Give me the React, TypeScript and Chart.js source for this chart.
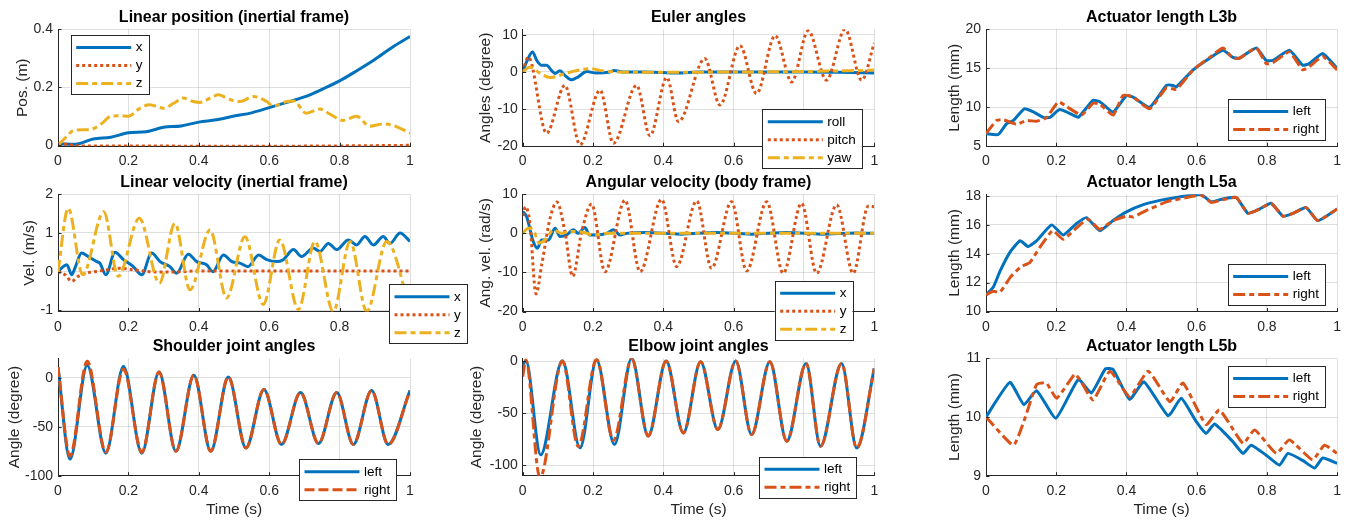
import React, { useEffect, useRef } from 'react';
import { Chart, registerables } from 'chart.js';

Chart.register(...registerables);

const W = 1348;
const H = 521;
const FONT = '"Liberation Sans", Arial, Helvetica, sans-serif';
const AXIS_COLOR = '#262626';
const GRID_COLOR = 'rgba(38,38,38,0.15)';
const BLUE = '#0072BD';
const ORANGE = '#D95319';
const YELLOW = '#EDB120';
const SOLID: number[] = [];
const DOTTED = [3, 3];
const DASHDOT = [12, 4, 5, 4];
const DASHED = [10, 4];
const LINE_W = 3;

// ---------- tick values ----------
const X_TICKS = [0, 0.2, 0.4, 0.6, 0.8, 1];
const POS_TICKS = [0, 0.2, 0.4];
const EULER_TICKS = [-20, -10, 0, 10];
const L3B_TICKS = [5, 10, 15, 20];
const VEL_TICKS = [-1, 0, 1, 2];
const ANGVEL_TICKS = [-20, -10, 0, 10];
const L5A_TICKS = [10, 12, 14, 16, 18];
const SHOULDER_TICKS = [-100, -50, 0];
const ELBOW_TICKS = [-100, -50, 0];
const L5B_TICKS = [9, 10, 11];

// ---------- Linear position ----------
const POS_X_T = [0, 0.05, 0.1, 0.15, 0.2, 0.25, 0.3, 0.35, 0.4, 0.45, 0.5, 0.55, 0.6, 0.65, 0.7, 0.75, 0.8, 0.85, 0.9, 0.95, 1];
const POS_X = [0.005, 0.004, 0.022, 0.028, 0.043, 0.047, 0.062, 0.067, 0.08, 0.088, 0.101, 0.112, 0.13, 0.148, 0.167, 0.193, 0.222, 0.258, 0.296, 0.338, 0.375];
const POS_Y_T = [0, 0.03, 0.06, 0.2, 0.4, 0.6, 0.8, 1];
const POS_Y = [0.006, 0.003, -0.002, -0.002, -0.003, -0.003, -0.002, 0];
const POS_Z_T = [0, 0.025, 0.045, 0.09, 0.12, 0.15, 0.176, 0.2, 0.233, 0.26, 0.3, 0.33, 0.356, 0.384, 0.403, 0.44, 0.455, 0.49, 0.517, 0.555, 0.593, 0.61, 0.65, 0.67, 0.705, 0.744, 0.772, 0.81, 0.848, 0.886, 0.924, 0.953, 1];
const POS_Z = [0, 0.031, 0.052, 0.054, 0.071, 0.1, 0.102, 0.1, 0.128, 0.14, 0.128, 0.146, 0.163, 0.151, 0.148, 0.168, 0.174, 0.157, 0.151, 0.168, 0.151, 0.136, 0.151, 0.153, 0.111, 0.125, 0.108, 0.086, 0.1, 0.066, 0.074, 0.068, 0.042];

// ---------- Euler angles ----------
const ROLL_T = [0, 0.011, 0.028, 0.04, 0.054, 0.068, 0.082, 0.092, 0.106, 0.12, 0.139, 0.158, 0.182, 0.21, 0.248, 0.26, 0.286, 0.35, 0.44, 0.5, 0.6, 0.7, 0.8, 0.9, 1];
const ROLL = [0, 2.7, 5.4, 3.1, 1.8, 1.8, 0.4, -0.4, 0.3, -0.9, -2.1, -1.3, 0.1, -0.3, 0, 0.4, 0, 0, -0.3, 0, 0, 0, 0, -0.1, -0.3];
const PITCH_T = [0, 0.016, 0.068, 0.12, 0.163, 0.22, 0.258, 0.324, 0.362, 0.41, 0.443, 0.518, 0.561, 0.618, 0.665, 0.718, 0.765, 0.812, 0.864, 0.917, 0.964, 1];
const PITCH = [0, 4.0, -16.5, -3.6, -19.6, -4.9, -19.2, -3.6, -17.2, -1.5, -13.4, 3.6, -8.9, 7.1, -5.8, 9.8, -2.7, 11.1, -2.2, 11.5, -2.2, 7.8];
const YAW_T = [0, 0.02, 0.05, 0.078, 0.115, 0.154, 0.19, 0.23, 0.267, 0.4, 0.6, 0.8, 0.9, 1];
const YAW = [0, 1.3, -0.4, -1.5, -0.6, 0.4, 0.9, 0.3, 0, -0.1, 0, 0.1, 0.3, 0.5];

// ---------- Actuator length L3b ----------
const L3B_L_T = [0, 0.035, 0.059, 0.078, 0.109, 0.135, 0.163, 0.182, 0.21, 0.248, 0.263, 0.305, 0.324, 0.362, 0.4, 0.419, 0.466, 0.514, 0.533, 0.542, 0.59, 0.637, 0.675, 0.703, 0.722, 0.77, 0.798, 0.817, 0.864, 0.902, 0.921, 0.959, 1];
const L3B_L = [6.6, 6.5, 7.9, 8.3, 9.8, 9.4, 8.7, 8.7, 9.7, 9.0, 8.7, 10.9, 10.7, 9.4, 11.5, 11.3, 10.0, 12.8, 12.8, 12.6, 14.8, 16.3, 17.3, 16.4, 16.3, 17.6, 16.0, 16.0, 17.3, 15.4, 15.6, 16.9, 15.0];
const L3B_R_T = [0, 0.03, 0.049, 0.087, 0.116, 0.144, 0.172, 0.206, 0.229, 0.272, 0.305, 0.324, 0.362, 0.39, 0.419, 0.466, 0.514, 0.542, 0.59, 0.637, 0.675, 0.703, 0.722, 0.77, 0.798, 0.817, 0.864, 0.902, 0.921, 0.959, 1];
const L3B_R = [6.6, 8.3, 8.4, 7.8, 8.3, 8.2, 8.65, 10.7, 10.1, 9.0, 10.5, 10.4, 9.0, 11.5, 11.3, 9.8, 12.5, 12.3, 14.8, 16.4, 17.6, 16.3, 16.3, 17.6, 15.6, 15.7, 17.1, 14.8, 15.2, 16.5, 14.8];

// ---------- Linear velocity ----------
const VEL_X_T = [0, 0.015, 0.025, 0.039, 0.048, 0.067, 0.086, 0.11, 0.119, 0.136, 0.162, 0.186, 0.214, 0.238, 0.266, 0.29, 0.318, 0.337, 0.37, 0.394, 0.422, 0.44, 0.47, 0.494, 0.517, 0.54, 0.57, 0.593, 0.621, 0.64, 0.669, 0.692, 0.725, 0.744, 0.768, 0.792, 0.825, 0.848, 0.872, 0.896, 0.924, 0.943, 0.972, 1];
const VEL_X = [0, 0.13, 0.18, -0.08, 0.09, 0.48, 0.39, 0.26, 0.22, -0.08, 0.5, 0.31, 0.13, -0.08, 0.48, 0.26, 0.13, -0.04, 0.45, 0.26, 0.18, 0, 0.43, 0.26, 0.22, 0.13, 0.43, 0.31, 0.26, 0.31, 0.57, 0.39, 0.61, 0.52, 0.73, 0.57, 0.82, 0.69, 0.91, 0.69, 0.91, 0.73, 1.0, 0.78];
const VEL_Y_T = [0, 0.02, 0.039, 0.058, 0.08, 0.12, 0.176, 0.214, 0.26, 0.33, 0.4, 0.6, 0.8, 1];
const VEL_Y = [0, -0.08, -0.25, -0.12, -0.04, 0.02, 0.09, 0.05, 0, -0.01, 0.02, 0.02, 0.02, 0.02];
const VEL_Z_T = [0, 0.029, 0.07, 0.13, 0.171, 0.231, 0.288, 0.332, 0.375, 0.432, 0.479, 0.531, 0.583, 0.63, 0.683, 0.73, 0.782, 0.83, 0.877, 0.934, 1];
const VEL_Z = [0, 1.64, -0.08, 1.55, -0.12, 1.38, -0.3, 1.25, -0.47, 1.08, -0.68, 0.9, -0.85, 0.82, -0.98, 0.78, -1.03, 0.78, -1.03, 0.78, -0.95];

// ---------- Angular velocity ----------
const AV_X_T = [0, 0.011, 0.03, 0.042, 0.054, 0.073, 0.092, 0.106, 0.125, 0.144, 0.158, 0.177, 0.19, 0.21, 0.239, 0.258, 0.277, 0.296, 0.35, 0.45, 0.55, 0.65, 0.75, 0.85, 0.95, 1];
const AV_X = [5.6, 4.3, -2.1, -3.8, -1.7, -1.7, 1.3, -0.8, -0.4, 0.9, 0, 1.5, -0.4, -0.4, 0, 0.9, -0.4, 0, 0.2, -0.2, 0.2, -0.2, 0.2, -0.2, 0.1, 0];
const AV_Y_T = [0, 0.008, 0.02, 0.038, 0.054, 0.078, 0.097, 0.12, 0.142, 0.168, 0.196, 0.234, 0.291, 0.334, 0.395, 0.438, 0.495, 0.537, 0.594, 0.637, 0.694, 0.741, 0.793, 0.836, 0.893, 0.94, 0.983, 1];
const AV_Y = [4.5, 6.8, 3.0, -15.5, -8.1, 3.9, 8.0, 0.5, -11.0, 0.5, 7.5, -9.8, 8.5, -9.8, 8.7, -8.5, 8.3, -8.9, 8.1, -9.6, 8.1, -10.2, 7.7, -10.2, 7.3, -10.2, 7.0, 6.8];
const AV_Z_T = [0, 0.016, 0.03, 0.047, 0.068, 0.087, 0.11, 0.135, 0.172, 0.2, 0.24, 0.4, 0.6, 0.8, 1];
const AV_Z = [0, 1.3, 0.9, -2.5, -1.3, 0.9, 0, 0.5, 0.3, -0.4, 0, 0, 0, 0, 0];

// ---------- Actuator length L5a ----------
const L5A_L_T = [0, 0.021, 0.04, 0.068, 0.097, 0.12, 0.144, 0.187, 0.22, 0.258, 0.286, 0.324, 0.362, 0.4, 0.448, 0.495, 0.542, 0.59, 0.613, 0.642, 0.675, 0.713, 0.746, 0.779, 0.812, 0.846, 0.874, 0.912, 0.945, 1];
const L5A_L = [11.15, 11.7, 12.8, 14.1, 14.9, 14.5, 14.9, 16.0, 15.3, 16.1, 16.5, 15.6, 16.3, 16.9, 17.4, 17.7, 17.9, 18.07, 18.1, 17.6, 17.8, 17.9, 16.8, 17.1, 17.5, 16.6, 16.8, 17.2, 16.3, 17.1];
const L5A_R_T = [0, 0.02, 0.04, 0.07, 0.1, 0.125, 0.152, 0.19, 0.22, 0.258, 0.29, 0.324, 0.362, 0.4, 0.419, 0.457, 0.514, 0.571, 0.613, 0.642, 0.675, 0.713, 0.746, 0.779, 0.812, 0.846, 0.874, 0.912, 0.945, 1];
const L5A_R = [11.15, 11.4, 11.35, 12.4, 13.1, 13.4, 14.4, 15.6, 15.0, 15.8, 16.4, 15.7, 16.3, 16.6, 16.55, 17.0, 17.6, 17.9, 18.05, 17.55, 17.75, 17.9, 16.8, 17.1, 17.5, 16.6, 16.8, 17.2, 16.3, 17.1];

// ---------- Shoulder joint angles ----------
const SH_T = [0, 0.034, 0.083, 0.136, 0.186, 0.238, 0.287, 0.335, 0.386, 0.434, 0.484, 0.534, 0.585, 0.635, 0.689, 0.74, 0.792, 0.839, 0.891, 0.938, 1];
const SH_L = [11, -83, 13, -77, 12, -77, 6, -75, 2.7, -75, 1, -71.6, -11.8, -68, -15, -67, -15, -68, -13, -68, -13];
const SH_R = [11, -80, 17, -76, 9, -76, 6, -75, 2.7, -75, 1, -71.6, -11.8, -68, -15, -67, -15, -68, -13, -68, -13];

// ---------- Elbow joint angles ----------
const EL_L_T = [0, 0.009, 0.051, 0.113, 0.163, 0.21, 0.261, 0.31, 0.357, 0.408, 0.457, 0.506, 0.555, 0.606, 0.651, 0.703, 0.751, 0.806, 0.847, 0.907, 0.95, 1];
const EL_L = [-4, 0.3, -90, 0.3, -83.4, 1, -80, 2.6, -72, 0, -69, -0.6, -65.6, 0, -70.5, -0.6, -77, -2.3, -81.8, -2.3, -83.4, -7];
const EL_R_T = [0, 0.009, 0.049, 0.113, 0.158, 0.21, 0.258, 0.31, 0.357, 0.408, 0.457, 0.506, 0.555, 0.606, 0.651, 0.703, 0.751, 0.806, 0.847, 0.907, 0.95, 1];
const EL_R = [-15, 1, -112, 0, -82, 1.6, -76, 2, -72, 0, -69, -0.6, -65.6, 0, -70.5, -0.6, -77, -2.3, -81.8, -2.3, -83.4, -7];

// ---------- Actuator length L5b ----------
const L5B_L_T = [0, 0.068, 0.108, 0.144, 0.199, 0.263, 0.3, 0.34, 0.362, 0.409, 0.45, 0.519, 0.556, 0.599, 0.627, 0.651, 0.703, 0.732, 0.755, 0.798, 0.836, 0.86, 0.902, 0.936, 0.959, 1];
const L5B_L = [10.0, 10.59, 10.21, 10.45, 9.98, 10.64, 10.41, 10.82, 10.81, 10.3, 10.6, 10.02, 10.32, 9.92, 9.72, 9.88, 9.58, 9.38, 9.52, 9.35, 9.18, 9.38, 9.26, 9.13, 9.3, 9.21];
const L5B_R_T = [0, 0.078, 0.111, 0.144, 0.172, 0.201, 0.253, 0.267, 0.305, 0.353, 0.409, 0.462, 0.524, 0.561, 0.627, 0.665, 0.732, 0.765, 0.827, 0.864, 0.93, 0.964, 1];
const L5B_R = [10.0, 9.52, 9.98, 10.55, 10.58, 10.32, 10.73, 10.64, 10.29, 10.78, 10.35, 10.78, 10.26, 10.58, 9.87, 10.12, 9.55, 9.78, 9.38, 9.61, 9.27, 9.52, 9.38];

// ---------- panel description ----------
type Series = { label: string; t: number[]; v: number[]; color: string; dash: number[]; mode: 'mono' | 'soft' };
type Panel = {
  title: string;
  ylabel: string;
  xlabel?: string;
  yMin: number;
  yMax: number;
  yTicks: number[];
  area: { l: number; r: number; t: number; b: number };
  yTitleX: number;
  titleY: number;
  legend: { x: number; y: number };
  series: Series[];
};

const COL1 = { l: 58, r: 410 };
const COL2 = { l: 522.7, r: 874.3 };
const COL3 = { l: 986, r: 1337.7 };
const ROW1 = { t: 29.3, b: 146.2, title: 17.3 };
const ROW2 = { t: 194.3, b: 311.5, title: 182.3 };
const ROW3 = { t: 358.3, b: 475.7, title: 346.7 };

const area = (c: { l: number; r: number }, r: { t: number; b: number }) => ({ l: c.l, r: c.r, t: r.t, b: r.b });

const PANELS: Panel[] = [
  {
    title: 'Linear position (inertial frame)', ylabel: 'Pos. (m)', yMin: -0.003, yMax: 0.4, yTicks: POS_TICKS,
    area: area(COL1, ROW1), yTitleX: 22.7, titleY: ROW1.title, legend: { x: 70.7, y: 35 },
    series: [
      { label: 'x', t: POS_X_T, v: POS_X, color: BLUE, dash: SOLID, mode: 'mono' },
      { label: 'y', t: POS_Y_T, v: POS_Y, color: ORANGE, dash: DOTTED, mode: 'mono' },
      { label: 'z', t: POS_Z_T, v: POS_Z, color: YELLOW, dash: DASHDOT, mode: 'mono' },
    ],
  },
  {
    title: 'Euler angles', ylabel: 'Angles (degree)', yMin: -20, yMax: 11.5, yTicks: EULER_TICKS,
    area: area(COL2, ROW1), yTitleX: 485.7, titleY: ROW1.title, legend: { x: 762.3, y: 109.3 },
    series: [
      { label: 'roll', t: ROLL_T, v: ROLL, color: BLUE, dash: SOLID, mode: 'mono' },
      { label: 'pitch', t: PITCH_T, v: PITCH, color: ORANGE, dash: DOTTED, mode: 'mono' },
      { label: 'yaw', t: YAW_T, v: YAW, color: YELLOW, dash: DASHDOT, mode: 'mono' },
    ],
  },
  {
    title: 'Actuator length L3b', ylabel: 'Length (mm)', yMin: 5, yMax: 20, yTicks: L3B_TICKS,
    area: area(COL3, ROW1), yTitleX: 955, titleY: ROW1.title, legend: { x: 1227.7, y: 99 },
    series: [
      { label: 'left', t: L3B_L_T, v: L3B_L, color: BLUE, dash: SOLID, mode: 'soft' },
      { label: 'right', t: L3B_R_T, v: L3B_R, color: ORANGE, dash: DASHDOT, mode: 'soft' },
    ],
  },
  {
    title: 'Linear velocity (inertial frame)', ylabel: 'Vel. (m/s)', yMin: -1.03, yMax: 2, yTicks: VEL_TICKS,
    area: area(COL1, ROW2), yTitleX: 29.4, titleY: ROW2.title, legend: { x: 389, y: 284.3 },
    series: [
      { label: 'x', t: VEL_X_T, v: VEL_X, color: BLUE, dash: SOLID, mode: 'mono' },
      { label: 'y', t: VEL_Y_T, v: VEL_Y, color: ORANGE, dash: DOTTED, mode: 'mono' },
      { label: 'z', t: VEL_Z_T, v: VEL_Z, color: YELLOW, dash: DASHDOT, mode: 'mono' },
    ],
  },
  {
    title: 'Angular velocity (body frame)', ylabel: 'Ang. vel. (rad/s)', yMin: -20, yMax: 10, yTicks: ANGVEL_TICKS,
    area: area(COL2, ROW2), yTitleX: 485.7, titleY: ROW2.title, legend: { x: 774.7, y: 280.7 },
    series: [
      { label: 'x', t: AV_X_T, v: AV_X, color: BLUE, dash: SOLID, mode: 'mono' },
      { label: 'y', t: AV_Y_T, v: AV_Y, color: ORANGE, dash: DOTTED, mode: 'mono' },
      { label: 'z', t: AV_Z_T, v: AV_Z, color: YELLOW, dash: DASHDOT, mode: 'mono' },
    ],
  },
  {
    title: 'Actuator length L5a', ylabel: 'Length (mm)', yMin: 10, yMax: 18.12, yTicks: L5A_TICKS,
    area: area(COL3, ROW2), yTitleX: 955, titleY: ROW2.title, legend: { x: 1227.7, y: 264 },
    series: [
      { label: 'left', t: L5A_L_T, v: L5A_L, color: BLUE, dash: SOLID, mode: 'soft' },
      { label: 'right', t: L5A_R_T, v: L5A_R, color: ORANGE, dash: DASHDOT, mode: 'soft' },
    ],
  },
  {
    title: 'Shoulder joint angles', ylabel: 'Angle (degree)', xlabel: 'Time (s)', yMin: -100, yMax: 20, yTicks: SHOULDER_TICKS,
    area: area(COL1, ROW3), yTitleX: 15, titleY: ROW3.title, legend: { x: 299, y: 459.3 },
    series: [
      { label: 'left', t: SH_T, v: SH_L, color: BLUE, dash: SOLID, mode: 'mono' },
      { label: 'right', t: SH_T, v: SH_R, color: ORANGE, dash: DASHED, mode: 'mono' },
    ],
  },
  {
    title: 'Elbow joint angles', ylabel: 'Angle (degree)', xlabel: 'Time (s)', yMin: -110, yMax: 2.6, yTicks: ELBOW_TICKS,
    area: area(COL2, ROW3), yTitleX: 477, titleY: ROW3.title, legend: { x: 759, y: 456.7 },
    series: [
      { label: 'left', t: EL_L_T, v: EL_L, color: BLUE, dash: SOLID, mode: 'mono' },
      { label: 'right', t: EL_R_T, v: EL_R, color: ORANGE, dash: DASHDOT, mode: 'mono' },
    ],
  },
  {
    title: 'Actuator length L5b', ylabel: 'Length (mm)', xlabel: 'Time (s)', yMin: 9, yMax: 11, yTicks: L5B_TICKS,
    area: area(COL3, ROW3), yTitleX: 955, titleY: ROW3.title, legend: { x: 1227.7, y: 366 },
    series: [
      { label: 'left', t: L5B_L_T, v: L5B_L, color: BLUE, dash: SOLID, mode: 'soft' },
      { label: 'right', t: L5B_R_T, v: L5B_R, color: ORANGE, dash: DASHDOT, mode: 'soft' },
    ],
  },
];

const fmt = (v: number) => String(Math.round(v * 1000) / 1000);

const extrasPlugin = {
  id: 'matlabExtras',
  afterDraw(chart: any, _args: any, opts: any) {
    const { ctx, chartArea: ca, scales } = chart;
    ctx.save();
    // inward tick marks
    ctx.strokeStyle = AXIS_COLOR;
    ctx.lineWidth = 1;
    ctx.setLineDash([]);
    ctx.beginPath();
    for (const t of scales.x.ticks) {
      const px = Math.round(scales.x.getPixelForValue(t.value)) + 0.5;
      ctx.moveTo(px, ca.bottom);
      ctx.lineTo(px, ca.bottom - 3.5);
    }
    for (const t of scales.y.ticks) {
      const py = Math.round(scales.y.getPixelForValue(t.value)) + 0.5;
      ctx.moveTo(ca.left, py);
      ctx.lineTo(ca.left + 3.5, py);
    }
    ctx.stroke();
    // legend box
    const lg = opts && opts.legend;
    if (lg) {
      ctx.font = `13.5px ${FONT}`;
      const items = chart.data.datasets;
      const tw = Math.max(...items.map((d: any) => ctx.measureText(d.label).width));
      const w = 65 + tw + 6;
      const h = 12.5 + 18 * (items.length - 1) + 10.5;
      ctx.fillStyle = '#ffffff';
      ctx.fillRect(lg.x, lg.y, w, h);
      ctx.strokeStyle = AXIS_COLOR;
      ctx.lineWidth = 1;
      ctx.strokeRect(Math.round(lg.x) + 0.5, Math.round(lg.y) + 0.5, Math.round(w), Math.round(h));
      items.forEach((d: any, i: number) => {
        const cy = lg.y + 12.5 + 18 * i;
        ctx.strokeStyle = d.borderColor;
        ctx.lineWidth = LINE_W;
        ctx.lineCap = 'butt';
        ctx.setLineDash(d.borderDash || []);
        ctx.beginPath();
        ctx.moveTo(lg.x + 5.5, cy);
        ctx.lineTo(lg.x + 60.5, cy);
        ctx.stroke();
        ctx.setLineDash([]);
        ctx.fillStyle = '#000000';
        ctx.textBaseline = 'middle';
        ctx.textAlign = 'left';
        ctx.fillText(d.label, lg.x + 65, cy);
      });
    }
    ctx.restore();
  },
};

function buildConfig(p: Panel): any {
  const yTitleSize = 15.5;
  const padLeft = p.yTitleX - yTitleSize / 2;
  const yW = p.area.l - padLeft;
  const xH = p.xlabel ? 42 : 24;
  const titleLH = 16 * 1.2;
  const padTop = p.titleY - titleLH / 2;
  const titleBottomPad = p.area.t - (p.titleY + titleLH / 2);
  const tickFont = { family: FONT, size: 14 };
  return {
    type: 'line',
    data: {
      datasets: p.series.map((s, i) => ({
        label: s.label,
        data: s.t.map((t, j) => ({ x: t, y: s.v[j] })),
        borderColor: s.color,
        backgroundColor: s.color,
        borderWidth: LINE_W,
        borderDash: s.dash,
        borderCapStyle: 'butt',
        borderJoinStyle: 'round',
        pointRadius: 0,
        pointHoverRadius: 0,
        fill: false,
        cubicInterpolationMode: s.mode === 'mono' ? 'monotone' : 'default',
        tension: s.mode === 'mono' ? 0 : 0.15,
        order: p.series.length - i,
      })),
    },
    options: {
      responsive: false,
      animation: false,
      devicePixelRatio: 1,
      events: [],
      layout: {
        padding: { left: padLeft, right: W - p.area.r, top: padTop, bottom: H - p.area.b - xH },
      },
      plugins: {
        legend: { display: false },
        tooltip: { enabled: false },
        title: {
          display: true,
          text: p.title,
          fullSize: false,
          color: '#000000',
          font: { family: FONT, size: 16, weight: 'bold', lineHeight: 1.2 },
          padding: { top: 0, bottom: titleBottomPad },
        },
        matlabExtras: { legend: p.legend },
      },
      scales: {
        x: {
          type: 'linear',
          min: 0,
          max: 1,
          afterBuildTicks: (s: any) => {
            s.ticks = X_TICKS.map((v) => ({ value: v }));
          },
          afterFit: (s: any) => {
            s.height = xH;
          },
          ticks: { color: AXIS_COLOR, font: tickFont, padding: 7, maxRotation: 0, autoSkip: false, callback: (v: any) => fmt(Number(v)) },
          grid: { color: GRID_COLOR, lineWidth: 1, drawTicks: false },
          border: { display: true, color: AXIS_COLOR, width: 1 },
          title: {
            display: !!p.xlabel,
            text: p.xlabel || '',
            color: AXIS_COLOR,
            font: { family: FONT, size: yTitleSize, lineHeight: 1 },
            padding: { top: 0, bottom: 0 },
          },
        },
        y: {
          type: 'linear',
          min: p.yMin,
          max: p.yMax,
          afterBuildTicks: (s: any) => {
            s.ticks = p.yTicks.map((v) => ({ value: v }));
          },
          afterFit: (s: any) => {
            s.width = yW;
          },
          ticks: { color: AXIS_COLOR, font: tickFont, padding: 5, autoSkip: false, callback: (v: any) => fmt(Number(v)) },
          grid: { color: GRID_COLOR, lineWidth: 1, drawTicks: false },
          border: { display: true, color: AXIS_COLOR, width: 1 },
          title: {
            display: true,
            text: p.ylabel,
            color: AXIS_COLOR,
            font: { family: FONT, size: yTitleSize, lineHeight: 1 },
            padding: { top: 0, bottom: 0 },
          },
        },
      },
    },
    plugins: [extrasPlugin],
  };
}

function PanelCanvas({ panel }: { panel: Panel }) {
  const ref = useRef<HTMLCanvasElement | null>(null);
  useEffect(() => {
    if (!ref.current) return;
    const chart = new Chart(ref.current, buildConfig(panel));
    return () => chart.destroy();
  }, [panel]);
  return (
    <canvas
      ref={ref}
      width={W}
      height={H}
      style={{ position: 'absolute', left: 0, top: 0, width: W, height: H }}
    />
  );
}

export default function App() {
  return (
    <div style={{ position: 'absolute', left: 0, top: 0, width: W, height: H, background: '#ffffff', overflow: 'hidden' }}>
      {PANELS.map((p, i) => (
        <PanelCanvas key={i} panel={p} />
      ))}
    </div>
  );
}
